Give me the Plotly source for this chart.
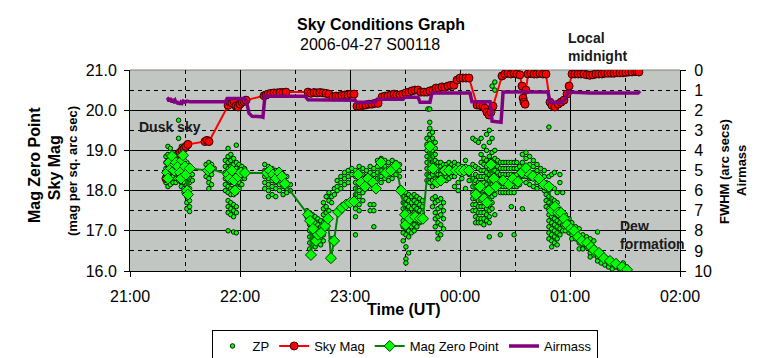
import plotly.graph_objects as go

# ---------------- data (time = minutes after 21:00 UT) ----------------
X_TICKS = [0, 60, 120, 180, 240, 300]
X_LABELS = ["21:00", "22:00", "23:00", "00:00", "01:00", "02:00"]
X_HALF = [30, 90, 150, 210, 270]
Y_TICKS = [16, 17, 18, 19, 20, 21]
Y2_TICKS = list(range(0, 11))

SKY_T = [19.6, 20.7, 21.8, 22.9, 24.0, 25.1, 26.2, 27.3, 28.4, 29.5, 30.5, 31.6,
         40.9, 42.0, 43.1,
         53.5, 54.5, 55.6, 56.7, 57.8, 58.9, 60.0, 61.1, 62.2, 63.3,
         73.1, 74.2, 75.3, 76.9, 78.5, 80.2, 81.8, 83.5, 85.1,
         97.1, 98.7, 100.4, 102.0, 103.6, 105.3, 106.9, 108.5,
         110.7, 112.4, 114.0, 115.6, 117.3, 118.9, 120.5, 122.2,
         123.8, 125.5, 127.1, 128.7, 130.4, 132.0, 133.6, 135.3,
         137.5, 139.1, 140.7, 142.4, 144.0, 145.6, 147.3,
         148.9, 150.5, 152.2, 153.8, 155.5, 157.1, 158.7, 160.4,
         162.0, 163.6, 165.3,
         166.9, 168.5, 170.2, 171.8, 173.5, 175.1, 176.7,
         178.4, 180.0, 181.6, 183.3, 184.9,
         189.3, 190.9, 192.5, 193.6, 194.7, 195.8, 196.9, 198.0,
         202.9, 204.5, 206.2, 207.8, 209.5, 211.1, 212.7,
         213.8, 214.4, 214.9, 215.5, 216.0, 217.1,
         218.7, 220.4, 222.0, 223.6, 225.3, 226.9,
         229.1, 230.2, 231.8, 233.5, 235.1, 236.7, 238.4, 239.5,
         241.1, 242.7, 244.4, 246.0, 247.6, 249.3, 250.9, 252.5, 254.2, 255.8,
         257.5, 259.1, 260.7, 262.4, 264.0, 265.6, 267.3, 268.9, 270.5, 272.2,
         273.8, 275.5, 276.5, 277.6]
SKY_V = [18.30, 18.45, 18.55, 18.65, 18.70, 18.80, 18.90, 18.95, 19.00, 19.05, 19.10, 19.15,
         19.22, 19.25, 19.22,
         20.12, 20.20, 20.18, 20.22, 20.10, 20.08, 20.15, 20.20, 20.22, 20.25,
         20.36, 20.38, 20.40, 20.42, 20.43, 20.43, 20.44, 20.44, 20.45,
         20.45, 20.42, 20.44, 20.43, 20.44, 20.43, 20.42, 20.40,
         20.33, 20.35, 20.35, 20.37, 20.38, 20.38, 20.40, 20.40,
         20.10, 20.10, 20.12, 20.13, 20.15, 20.15, 20.17, 20.17,
         20.33, 20.35, 20.36, 20.38, 20.40, 20.38, 20.38,
         20.40, 20.43, 20.45, 20.48, 20.50, 20.50, 20.45, 20.45,
         20.45, 20.48, 20.50,
         20.55, 20.55, 20.58, 20.57, 20.60, 20.62, 20.62,
         20.75, 20.80, 20.80, 20.80, 20.80,
         20.13, 20.12, 20.10, 20.05, 19.95, 19.88, 19.95, 20.10,
         20.85, 20.90, 20.92, 20.90, 20.92, 20.90, 20.88,
         20.60, 20.30, 20.20, 20.15, 20.50, 20.90,
         20.92, 20.90, 20.90, 20.92, 20.90, 20.90,
         20.20, 20.12, 20.08, 20.15, 20.20, 20.25, 20.40, 20.60,
         20.90, 20.90, 20.90, 20.90, 20.90, 20.88, 20.87, 20.88, 20.90, 20.90,
         20.90, 20.92, 20.92, 20.92, 20.92, 20.93, 20.93, 20.93, 20.94, 20.95,
         20.95, 20.96, 20.97, 20.95]

MZP_T = [20.2, 20.7, 21.3, 22.4, 22.9, 24.0, 24.5, 25.1, 26.2, 27.3, 27.8, 28.4, 28.9,
         30.0, 30.5, 31.1, 31.6, 32.7,
         42.5, 43.6,
         53.5, 54.5, 55.6, 56.7, 57.3, 58.9, 60.5, 62.7,
         74.7, 76.4, 78.0, 79.6, 81.3, 82.9, 84.5,
         97.1, 98.2, 98.7, 99.8, 101.5, 102.5, 104.2, 106.4, 108.0, 109.6, 111.3,
         113.5, 115.6, 117.8, 120.0, 122.2,
         124.4, 126.0, 128.2, 129.8, 132.5, 134.2, 136.9, 139.6, 142.4, 145.1,
         147.8, 150.0, 150.3,
         152.7, 155.5, 158.2, 159.8, 163.6, 165.3, 167.5, 169.6, 171.8, 174.0,
         177.8, 180.0, 182.2, 184.9,
         188.7, 190.9, 193.1, 194.7, 195.8, 196.9, 198.5, 199.6, 203.5, 206.7,
         208.9, 211.6, 213.8, 216.0, 218.2, 219.8, 223.1, 225.8,
         228.5, 230.2, 231.8, 233.5, 235.1, 236.7, 238.4, 240.5, 242.2, 244.4,
         246.5, 249.3, 251.5, 253.1, 255.8, 258.5, 261.8, 265.1, 268.4, 271.1]
MZP_V = [18.45, 18.30, 18.70, 18.55, 18.86, 18.50, 18.65, 18.70, 18.60, 18.45, 18.30, 18.75, 18.88,
         18.60, 18.40, 18.00, 17.90, 18.55,
         18.50, 18.55,
         18.40, 18.30, 18.50, 18.25, 18.00, 18.35, 18.45, 18.44,
         18.44, 18.50, 18.40, 18.30, 18.45, 18.35, 18.17,
         17.40, 17.25, 16.40, 17.05, 16.75, 16.90, 16.95, 17.12, 17.30, 16.32, 16.75,
         17.47, 17.57, 17.65, 17.70, 17.73,
         18.40, 18.20, 18.10, 18.30, 18.20, 18.05, 18.70, 18.44, 18.50, 18.62,
         18.00, 17.40, 17.15,
         17.30, 17.35, 17.30, 17.30, 19.10, 18.55, 18.20, 18.25, 18.50, 18.50,
         18.50, 18.50, 18.50, 18.50,
         17.90, 18.10, 17.80, 17.70, 18.00, 18.65, 18.30, 18.10, 18.25, 18.15,
         18.30, 18.22, 18.45, 18.56, 18.40, 18.36, 18.30, 18.15,
         18.10, 17.50, 17.60, 17.45, 17.45, 17.30, 17.15, 17.05, 17.00, 16.85,
         16.75, 16.70, 16.60, 16.52, 16.45, 16.32, 16.25, 16.18, 16.10, 16.03]

AIR_T = [20.2, 20.7, 21.3, 21.8, 22.4, 22.9, 23.5, 24.0, 24.5, 25.1, 25.6, 26.2, 26.7,
         27.3, 27.8, 28.4, 29.0, 30.0, 31.0, 32.7,
         52.0, 53.0, 62.5, 63.5, 64.9, 66.6, 71.5, 72.5, 73.6,
         95.5, 97.1, 122.7, 123.8, 133.6, 134.7, 148.9, 150.0, 157.1, 158.2, 163.6,
         164.7, 185.5, 186.5, 196.4, 197.5, 202.4, 203.5, 228.0, 229.1, 235.6,
         237.3, 239.0, 250.9, 277.1, 278.2]
AIR_V = [1.50, 1.45, 1.55, 1.40, 1.50, 1.60, 1.45, 1.55, 1.50, 1.65, 1.55, 1.70, 1.60,
         1.72, 1.60, 1.65, 1.55, 1.60, 1.55, 1.58,
         1.58, 1.42, 1.42, 1.55, 2.15, 2.30, 2.33, 2.35, 1.30,
         1.30, 1.48, 1.50, 1.60, 1.60, 1.45, 1.45, 1.35, 1.35, 1.60, 1.60,
         1.15, 1.15, 1.58, 1.58, 2.55, 2.60, 1.10, 1.10, 1.60, 1.60,
         1.45, 1.10, 1.15, 1.15, 1.05]

# ZP small dots: (minute, [magnitudes at that time])
ZP_COLUMNS = [
    (19.6, [18.85, 18.7, 18.55, 18.4, 18.3, 18.2]),
    (20.7, [19.1, 18.9, 18.75, 18.6, 18.5, 18.35, 18.25, 18.1]),
    (22.0, [19.05, 18.8, 18.65, 18.5, 18.4, 18.3, 18.15]),
    (23.5, [18.9, 18.75, 18.6, 18.45, 18.35, 18.2]),
    (25.0, [18.85, 18.7, 18.55, 18.45, 18.3, 18.2]),
    (26.5, [19.75, 19.3, 18.95, 18.8, 18.6, 18.45, 18.35, 18.25]),
    (28.0, [19.1, 18.9, 18.75, 18.6, 18.5, 18.35, 18.2, 18.1]),
    (29.5, [18.85, 18.65, 18.5, 18.4, 18.3, 18.2, 18.05, 17.95]),
    (31.0, [18.7, 18.55, 18.4, 18.3, 18.15, 18.0, 17.85, 17.7, 17.55]),
    (32.5, [18.6, 18.45, 18.3, 18.2, 18.05, 17.9, 17.75, 17.6, 17.48]),
    (34.0, [18.4, 18.25]),
    (41.5, [18.65, 18.5, 18.35]),
    (43.0, [18.7, 18.6, 18.45, 18.3, 18.2, 18.05]),
    (44.5, [18.65, 18.5, 18.4, 18.15]),
    (46.0, [18.55]),
    (52.0, [18.75, 18.6, 18.45, 18.3, 18.15, 18.0]),
    (53.5, [19.05, 18.85, 18.7, 18.55, 18.4, 18.25, 18.1, 17.95, 17.75, 17.6, 17.45, 17.0]),
    (55.0, [18.9, 18.75, 18.6, 18.5, 18.35, 18.2, 18.05, 17.9, 17.7, 17.55, 17.4]),
    (56.5, [18.8, 18.65, 18.5, 18.35, 18.2, 18.05, 17.9, 17.65, 17.5, 17.35, 16.97]),
    (58.0, [19.13, 18.7, 18.55, 18.4, 18.25, 18.1, 17.95, 17.6, 17.45, 16.95]),
    (59.5, [18.65, 18.5, 18.35, 18.2, 18.05]),
    (61.0, [18.6, 18.45, 18.3, 18.15]),
    (62.5, [18.55, 18.4, 18.3]),
    (73.5, [18.65, 18.5, 18.35, 18.2, 18.05]),
    (75.5, [18.6, 18.45, 18.3, 18.15, 18.0, 17.85]),
    (77.5, [18.55, 18.4, 18.25, 18.1, 17.9]),
    (79.5, [18.5, 18.35, 18.2, 18.05, 17.85]),
    (81.5, [18.45, 18.3, 18.15, 18.0]),
    (83.5, [18.4, 18.25, 18.1, 17.9]),
    (85.5, [18.35, 18.2, 18.05, 17.95]),
    (87.5, [18.15, 18.0]),
    (96.5, [17.5, 17.35]),
    (98.0, [17.45, 17.3, 17.15, 17.0, 16.85, 16.7, 16.55]),
    (99.5, [17.4, 17.25, 17.1, 16.95, 16.8, 16.65]),
    (101.0, [17.35, 17.2, 17.05, 16.9, 16.75, 16.6]),
    (102.5, [17.3, 17.15, 17.0, 16.85, 16.7]),
    (104.0, [17.25, 17.1, 16.95, 16.8, 16.65]),
    (105.5, [17.7, 17.55, 17.4, 17.2, 17.05, 16.9, 16.75]),
    (107.0, [17.85, 17.6, 17.45, 17.3]),
    (108.5, [17.95, 17.75, 17.5]),
    (110.0, [17.85, 17.7, 16.8]),
    (111.5, [18.05, 17.9]),
    (113.0, [18.25, 18.1, 18.0]),
    (115.0, [18.35, 18.2, 18.05]),
    (117.0, [18.45, 18.3, 18.15]),
    (119.0, [18.5, 18.35, 18.2]),
    (121.0, [18.55, 18.4]),
    (123.0, [18.5, 18.35, 18.2, 18.05, 17.9, 17.75, 17.55, 17.35, 16.9]),
    (125.0, [18.6, 18.45, 18.3, 18.15, 18.0, 17.85, 17.65, 17.5]),
    (127.0, [18.55, 18.4, 18.25, 18.1, 17.95, 17.75]),
    (129.0, [18.5, 18.35, 18.2, 18.05]),
    (131.0, [18.6, 18.45, 18.3, 18.15, 17.65, 17.5]),
    (133.0, [18.55, 18.4, 18.25, 17.65, 17.5, 17.1]),
    (135.0, [18.75, 18.6, 18.45, 18.3]),
    (137.0, [18.8, 18.65, 18.5, 18.35, 18.2]),
    (139.0, [18.75, 18.6, 18.45, 18.3]),
    (141.0, [18.7, 18.55, 18.4, 18.25]),
    (143.0, [18.75, 18.6, 18.45, 18.3]),
    (145.0, [18.7, 18.55, 18.4]),
    (147.0, [18.65, 18.5, 18.35, 18.05]),
    (149.0, [18.0, 17.85, 17.7, 17.55, 17.4, 17.25, 17.1, 16.95, 16.75]),
    (150.5, [17.95, 17.8, 17.65, 17.5, 17.35, 17.2, 17.05, 16.9, 16.6, 16.3, 16.2]),
    (152.0, [17.9, 17.75, 17.6, 17.45, 17.3, 17.15, 17.0, 16.85, 16.45]),
    (153.5, [17.85, 17.7, 17.55, 17.4, 17.25, 17.1, 16.95]),
    (155.0, [17.9, 17.75, 17.6, 17.45, 17.3, 17.15, 17.0]),
    (156.5, [17.85, 17.7, 17.55, 17.4, 17.25, 17.1]),
    (158.0, [17.8, 17.65, 17.5, 17.35, 17.2]),
    (159.5, [17.75, 17.6, 17.45, 17.3]),
    (162.0, [19.3, 19.15, 19.0, 18.85, 18.7, 18.55, 18.4, 18.25]),
    (162.5, [20.03]),
    (163.5, [20.03, 19.7, 19.55, 19.4, 19.25, 19.1, 18.95, 18.8, 18.65, 18.5, 18.35, 18.2]),
    (165.0, [19.45, 19.3, 19.15, 19.0, 18.85, 18.7, 18.55, 18.4, 18.25, 18.1, 17.8, 17.6]),
    (166.5, [19.2, 19.05, 18.9, 18.75, 18.6, 18.45, 18.3, 18.15, 17.85, 17.7, 17.45, 17.3, 17.1]),
    (168.0, [18.7, 18.6, 18.5, 18.4, 18.3, 18.2, 17.75, 17.55, 17.35, 17.2, 16.95, 16.8]),
    (169.5, [18.7, 18.6, 18.5, 18.4, 18.3, 18.2, 17.8, 17.6, 17.4, 17.15, 16.9]),
    (171.0, [18.65, 18.55, 18.45, 18.35, 18.25, 17.7, 17.5, 17.3, 17.05]),
    (172.5, [18.65, 18.55, 18.45, 18.35, 18.25]),
    (174.0, [18.7, 18.6, 18.5, 18.4, 18.3]),
    (175.5, [18.65, 18.55, 18.45, 18.35]),
    (177.0, [18.7, 18.6, 18.5, 18.35, 18.1]),
    (179.0, [18.65, 18.55, 18.45, 18.2, 18.0]),
    (181.0, [18.6, 18.5, 18.4, 18.3]),
    (183.0, [18.75, 18.6, 18.45, 18.05]),
    (185.0, [18.55, 18.4, 18.25]),
    (187.0, [19.3, 18.65, 18.3, 18.1, 17.95, 17.8, 17.65, 17.5]),
    (188.5, [19.25, 18.6, 18.4, 18.25, 18.1, 17.95, 17.8, 17.65, 17.5, 17.35, 17.2]),
    (190.0, [19.2, 18.55, 18.35, 18.2, 18.05, 17.9, 17.75, 17.6, 17.45, 17.3, 17.2]),
    (191.5, [19.3, 18.9, 18.7, 18.5, 18.35, 18.2, 18.05, 17.9, 17.75, 17.6, 17.45, 17.3, 17.2]),
    (193.0, [19.1, 18.8, 18.65, 18.5, 18.35, 18.2, 18.05, 17.9, 17.75, 17.6, 17.45, 17.3, 17.15]),
    (194.5, [19.4, 19.0, 18.75, 18.6, 18.45, 18.3, 18.15, 18.0, 17.85, 17.7, 17.55, 17.4, 17.25]),
    (196.0, [19.5, 19.2, 18.85, 18.7, 18.55, 18.4, 18.25, 18.1, 17.95, 17.8, 17.65, 17.5, 17.35, 17.2, 16.85]),
    (197.5, [20.6, 19.3, 18.95, 18.75, 18.6, 18.45, 18.3, 18.15, 18.0, 17.85, 17.7, 17.55]),
    (199.0, [20.7, 20.5, 19.0, 18.8, 18.65, 18.5, 18.35, 18.2, 17.9, 17.4]),
    (200.5, [18.75, 18.6, 18.45, 18.3]),
    (202.0, [18.7, 18.55, 18.4, 18.25, 18.1, 17.95, 16.9]),
    (203.5, [18.7, 18.55, 18.4, 18.25, 18.1, 17.95]),
    (205.0, [18.7, 18.55, 18.4, 18.25, 18.1, 17.95]),
    (206.5, [18.7, 18.55, 18.4, 18.25, 18.1, 17.95]),
    (208.0, [18.7, 18.55, 18.4, 18.25, 18.1, 17.95, 17.6]),
    (209.5, [18.7, 18.55, 18.4, 18.25, 18.1, 17.95, 16.9]),
    (211.0, [18.7, 18.55, 18.4, 18.25, 18.1]),
    (212.5, [18.6, 18.45, 18.3, 18.15]),
    (214.0, [18.9, 18.7, 18.5, 18.35, 17.55]),
    (216.0, [18.95, 18.8, 18.5, 18.35, 18.2]),
    (218.0, [18.85, 18.65, 18.45, 18.3, 18.15]),
    (220.0, [18.75, 18.6, 18.45, 18.3, 18.1]),
    (222.0, [18.65, 18.5, 18.35, 18.2, 18.05]),
    (224.0, [18.55, 18.4, 18.25, 18.1]),
    (226.0, [18.5, 18.35, 18.2, 18.0]),
    (227.0, [18.2, 18.05, 17.9, 17.75, 17.6]),
    (228.5, [19.58, 18.35, 18.0, 17.85, 17.7, 17.55, 17.4, 17.25, 17.1, 16.95, 16.8]),
    (230.0, [18.4, 18.1, 17.8, 17.65, 17.5, 17.35, 17.2, 17.05, 16.9, 16.75, 16.6]),
    (231.5, [18.45, 18.05, 17.75, 17.6, 17.45, 17.3, 17.15, 17.0, 16.85, 16.7]),
    (233.0, [17.95, 17.7, 17.55, 17.4, 17.25, 17.1, 16.95, 16.8, 16.65]),
    (234.5, [18.4, 18.2, 17.5, 17.35, 17.2, 17.05, 16.9]),
    (236.0, [17.95, 17.45, 17.3, 17.15, 17.0]),
    (237.5, [17.4, 17.2, 17.0]),
    (239.5, [17.3, 17.05, 16.95]),
    (241.0, [17.2, 17.0, 16.9, 16.8]),
    (243.0, [17.1, 16.95, 16.8]),
    (245.0, [17.05, 16.85, 16.7, 16.55]),
    (247.0, [16.9, 16.8, 16.65, 16.55]),
    (249.0, [16.85, 16.7, 16.6]),
    (251.0, [16.8, 16.6, 16.45, 16.35]),
    (253.0, [16.75, 16.55, 16.4]),
    (255.0, [16.97, 16.5, 16.35, 16.25]),
    (257.0, [16.45, 16.3, 16.2]),
    (259.0, [16.35, 16.25, 16.15]),
    (261.0, [16.3, 16.2, 16.1]),
    (263.0, [16.25, 16.15, 16.05]),
    (265.0, [16.2, 16.1]),
    (267.0, [16.15, 16.05]),
    (269.0, [16.2, 16.05]),
    (271.0, [16.1, 16.0]),
]

ZP_T = [t for t, vals in ZP_COLUMNS for _ in vals]
ZP_V = [v for _, vals in ZP_COLUMNS for v in vals]

FONT = "Liberation Sans, Arial, sans-serif"

fig = go.Figure()
fig.add_trace(go.Scatter(x=ZP_T, y=ZP_V, name="ZP", mode="markers",
                         marker=dict(size=4.5, color="#00FF00", line=dict(color="#002000", width=1)),
                         legendrank=1))
fig.add_trace(go.Scatter(x=SKY_T, y=SKY_V, name="Sky Mag", mode="lines+markers",
                         line=dict(color="#FF0000", width=2),
                         marker=dict(size=8, color="#FF0000", symbol="circle",
                                     line=dict(color="#300000", width=1)),
                         legendrank=2))
fig.add_trace(go.Scatter(x=MZP_T, y=MZP_V, name="Mag Zero Point", mode="lines+markers",
                         line=dict(color="#008000", width=2),
                         marker=dict(size=8.5, color="#00FF00", symbol="diamond",
                                     line=dict(color="#003800", width=1)),
                         legendrank=3))
fig.add_trace(go.Scatter(x=AIR_T, y=AIR_V, name="Airmass", mode="lines", yaxis="y2",
                         line=dict(color="#800080", width=3.5),
                         legendrank=4))

# the page body adds an 8 px offset, so the figure is 8 px smaller and shifted
fig.update_layout(
    width=756, height=350,
    margin=dict(l=122, r=84, t=62, b=87, autoexpand=False),
    paper_bgcolor="white", plot_bgcolor="#C2C6C3",
    font=dict(family=FONT, size=16, color="black"),
    showlegend=True,
    legend=dict(orientation="h", xref="container", yref="container",
                x=0.5245, xanchor="center", y=0.08, yanchor="top",
                bgcolor="white", bordercolor="black", borderwidth=1,
                font=dict(size=13, family=FONT), itemwidth=30, tracegroupgap=0),
    xaxis=dict(range=[0, 300], tickmode="array", tickvals=X_TICKS, ticktext=X_LABELS,
               showgrid=True, gridcolor="black", gridwidth=1,
               minor=dict(tickvals=X_HALF, showgrid=True, gridcolor="black",
                          griddash="4px,4px", gridwidth=1, ticks=""),
               ticks="outside", ticklen=5, tickcolor="black",
               showline=True, linecolor="black", linewidth=1, zeroline=False,
               tickfont=dict(size=16), ticklabelstandoff=6),
    yaxis=dict(range=[16, 21], tickmode="array", tickvals=Y_TICKS, tickformat=".1f",
               showgrid=True, gridcolor="black", gridwidth=1,
               minor=dict(dtick=0.5, tick0=16, showgrid=True, gridcolor="black",
                          griddash="4px,4px", gridwidth=1, ticks=""),
               ticks="outside", ticklen=5, tickcolor="black",
               showline=True, linecolor="black", linewidth=1, zeroline=False,
               tickfont=dict(size=16), ticklabelstandoff=4),
    yaxis2=dict(range=[10, 0], overlaying="y", side="right", tickmode="array",
                tickvals=Y2_TICKS, showgrid=False, ticks="outside", ticklen=5,
                tickcolor="black", showline=True, linecolor="black", linewidth=1,
                zeroline=False, tickfont=dict(size=16), ticklabelstandoff=5),
)

fig.add_shape(type="line", xref="paper", yref="paper", x0=0, x1=1, y0=1, y1=1,
              line=dict(color="#808080", width=1), layer="between")

def ann(text, x, y, size, xanchor="center", angle=0, bold=True, color="black", align="center"):
    fig.add_annotation(text=f"<b>{text}</b>" if bold else text, x=x, y=y,
                       xref="paper", yref="paper", showarrow=False,
                       xanchor=xanchor, yanchor="middle", textangle=angle, align=align,
                       font=dict(size=size, family=FONT, color=color))

ann("Sky Conditions Graph", 0.4555, 1.224, 16)
ann("2006-04-27 S00118", 0.4355, 1.129, 16, bold=False)
ann("Mag Zero Point", -0.1745, 0.527, 16, angle=-90)
ann("Sky Mag", -0.138, 0.512, 16, angle=-90)
ann("(mag per sq. arc sec)", -0.1055, 0.4975, 13, angle=-90)
ann("FWHM (arc secs)", 1.08, 0.4925, 13, angle=-90)
ann("Airmass", 1.1127, 0.5025, 13, angle=-90)
ann("Time (UT)", 0.4964, -0.194, 16)
ann("Dusk sky", 0.0127, 0.7164, 14, xanchor="left", color="#1A1A1A")
ann("Local<br>midnight", 0.7927, 1.1144, 14, xanchor="left", color="#1A1A1A", align="left")
ann("Dew<br>formation", 0.8873, 0.179, 14, xanchor="left", color="#1A1A1A", align="left")

fig.write_html("out.html")
